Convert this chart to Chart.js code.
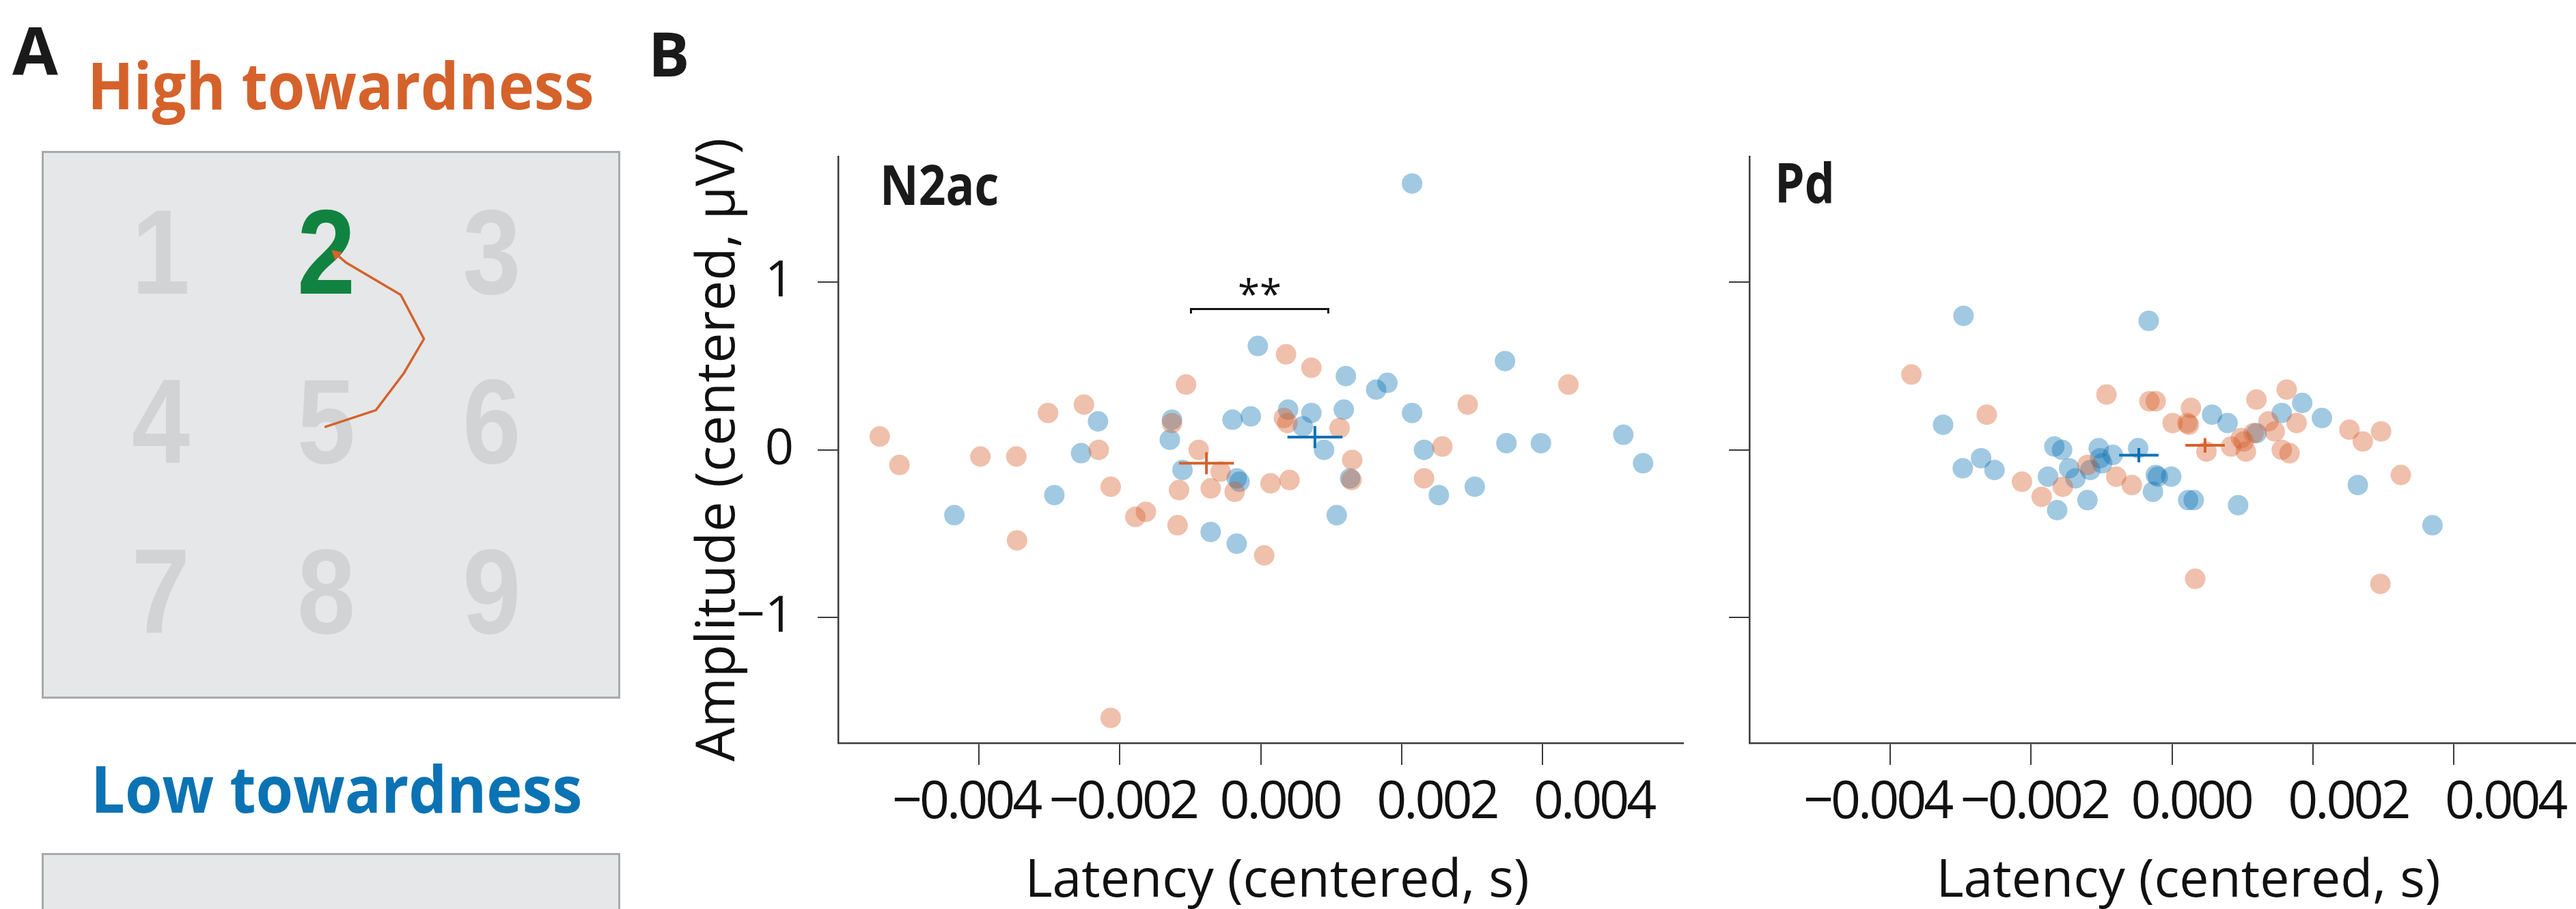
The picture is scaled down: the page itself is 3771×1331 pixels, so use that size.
<!DOCTYPE html>
<html>
<head>
<meta charset="utf-8">
<title>Towardness – N2ac / Pd</title>
<script src="https://cdn.jsdelivr.net/npm/chart.js@4.4.1/dist/chart.umd.min.js"></script>
<style>
  html, body { margin: 0; padding: 0; background: #fff; }
  #page { position: relative; width: 3771px; height: 1331px; overflow: hidden; background: #fff; }
  .lbl { position: absolute; line-height: 1; white-space: nowrap; font-family: "Open Sans", sans-serif; font-weight: 700; color: #1a1a1a; }
  .ttl { font-size: 95px; transform: scaleX(0.93); transform-origin: 0 0; }
  .cond { font-size: 81px; transform: scaleX(0.86); transform-origin: 0 0; }
  .box { position: absolute; left: 61px; width: 847px; box-sizing: border-box; border: 3px solid #A7A9AC; background: #E6E7E8; }
  .box canvas { display: block; }
  canvas.plot { position: absolute; top: 150px; }
</style>
</head>
<body>
<div id="page">
  <div class="lbl" style="left:18px;top:24px;font-size:97px">A</div>
  <div class="lbl ttl" style="left:128px;top:76px;color:#D5622B">High towardness</div>
  <div class="box" style="top:221px;height:802px"><canvas id="gridA" width="841" height="796"></canvas></div>
  <div class="lbl ttl" style="left:133px;top:1106px;color:#0B73B3">Low towardness</div>
  <div class="box" style="top:1249px;height:200px"></div>

  <div class="lbl" style="left:949px;top:32px;font-size:90px">B</div>
  <canvas id="n2ac" class="plot" style="left:990px" width="1490" height="1250"></canvas>
  <canvas id="pd" class="plot" style="left:2490px" width="1330" height="1250"></canvas>
  <div class="lbl cond" style="left:1288px;top:228px">N2ac</div>
  <div class="lbl cond" style="left:2598px;top:225px">Pd</div>
</div>

<script>
//------------------data---------------------
// latency in s, amplitude in µV (both centered per subject)
const latTicks = [-0.004, -0.002, 0, 0.002, 0.004];
const ampTicks = [-1, 0, 1];

// N2ac, high towardness (orange)
const n2acHighLat = [-0.00541, -0.00513, -0.00398, -0.00347, -0.00346, -0.00302, -0.00251, -0.00230, -0.00213, -0.00213,
  -0.00178, -0.00163, -0.00126, -0.00118, -0.00116, -0.00106, -0.00088, -0.00071, -0.00057, -0.00037,
  0.00005, 0.00014, 0.00036, 0.00033, 0.00038, 0.00041, 0.00072, 0.00112, 0.00130, 0.00129,
  0.00232, 0.00258, 0.00294, 0.00437];
const n2acHighAmp = [0.08, -0.09, -0.04, -0.04, -0.54, 0.22, 0.27, 0.00, -0.22, -1.60,
  -0.40, -0.37, 0.16, -0.45, -0.24, 0.39, 0.00, -0.23, -0.13, -0.25,
  -0.63, -0.20, 0.57, 0.19, 0.16, -0.18, 0.49, 0.13, -0.06, -0.18,
  -0.17, 0.02, 0.27, 0.39];
// N2ac, low towardness (blue)
const n2acLowLat = [-0.00435, -0.00293, -0.00255, -0.00231, -0.00129, -0.00126, -0.00111, -0.00071, -0.00040, -0.00034,
  -0.00034, -0.00030, -0.00014, -0.00004, 0.00039, 0.00060, 0.00072, 0.00090, 0.00108, 0.00118,
  0.00121, 0.00127, 0.00164, 0.00180, 0.00215, 0.00215, 0.00232, 0.00253, 0.00304, 0.00347,
  0.00349, 0.00398, 0.00515, 0.00543];
const n2acLowAmp = [-0.39, -0.27, -0.02, 0.17, 0.06, 0.18, -0.12, -0.49, 0.18, -0.56,
  -0.17, -0.19, 0.20, 0.62, 0.24, 0.14, 0.22, 0.00, -0.39, 0.24,
  0.44, -0.17, 0.36, 0.40, 0.22, 1.59, 0.00, -0.27, -0.22, 0.53,
  0.04, 0.04, 0.09, -0.08];

// Pd, high towardness (orange)
const pdHighLat = [-0.00370, -0.00263, -0.00213, -0.00185, -0.00155, -0.00120, -0.00093, -0.00079, -0.00057, -0.00032,
  -0.00023, 0.00001, 0.00022, 0.00024, 0.00027, 0.00033, 0.00049, 0.00084, 0.00098, 0.00102,
  0.00105, 0.00116, 0.00120, 0.00137, 0.00146, 0.00156, 0.00163, 0.00167, 0.00177, 0.00252,
  0.00271, 0.00297, 0.00296, 0.00325];
const pdHighAmp = [0.45, 0.21, -0.19, -0.28, -0.22, -0.09, 0.33, -0.16, -0.21, 0.29,
  0.29, 0.16, 0.16, 0.15, 0.25, -0.77, -0.01, 0.02, 0.07, 0.05,
  -0.01, 0.10, 0.30, 0.17, 0.11, 0.00, 0.36, -0.02, 0.16, 0.12,
  0.05, 0.11, -0.80, -0.15];
// Pd, low towardness (blue)
const pdLowLat = [-0.00325, -0.00296, -0.00297, -0.00271, -0.00252, -0.00176, -0.00167, -0.00156, -0.00146, -0.00163,
  -0.00137, -0.00120, -0.00116, -0.00104, -0.00102, -0.00099, -0.00084, -0.00048, -0.00033, -0.00027,
  -0.00023, -0.00020, -0.00001, 0.00023, 0.00031, 0.00057, 0.00079, 0.00094, 0.00120, 0.00156,
  0.00185, 0.00213, 0.00264, 0.00370];
const pdLowAmp = [0.15, 0.80, -0.11, -0.05, -0.12, -0.16, 0.02, 0.00, -0.11, -0.36,
  -0.17, -0.30, -0.12, 0.01, -0.05, -0.08, -0.03, 0.01, 0.77, -0.25,
  -0.15, -0.16, -0.16, -0.30, -0.30, 0.21, 0.16, -0.33, 0.10, 0.22,
  0.28, 0.19, -0.21, -0.45];

// group means [lat, amp] and error half-widths [lat, amp]
const n2acHighMean = [-0.00077, -0.080];
const n2acHighErr = [0.00039, 0.066];
const n2acLowMean = [0.00077, 0.076];
const n2acLowErr = [0.00039, 0.066];
const pdHighMean = [0.00047, 0.027];
const pdHighErr = [0.00028, 0.043];
const pdLowMean = [-0.00047, -0.032];
const pdLowErr = [0.00028, 0.043];

// significance bracket (N2ac)
const bracketX = [-0.00099, 0.00096];
const bracketY = 0.841;
const bracketFoot = 0.814;
const starY = 0.91;
const starText = '**';

// panel A: 3x3 digit grid, trajectory from 5 to target 2
const gridDigits = ['1', '2', '3', '4', '5', '6', '7', '8', '9'];
const gridCol = [1, 2, 3, 1, 2, 3, 1, 2, 3];
const gridRow = [1, 1, 1, 2, 2, 2, 3, 3, 3];
const targetDigit = '2';
const pathX = [1.99, 2.30, 2.47, 2.59, 2.45, 2.12, 2.06];
const pathY = [1.99, 1.89, 1.67, 1.47, 1.21, 1.02, 0.97];

//------------------style---------------------
const orange = '#D5622B';
const blue = '#0A73B3';
const green = '#118340';
const orangeDot = 'rgba(213, 94, 40, 0.39)';
const blueDot = 'rgba(10, 114, 178, 0.38)';
const axisColor = '#3b3b3d';
const font = '"Open Sans", "Noto Sans", sans-serif';

Chart.defaults.color = '#111';
Chart.defaults.font.family = font;

function toPoints(xs, ys) {
  return xs.map((x, i) => ({ x: x, y: ys[i] }));
}

function fmtLat(v) {
  if (Math.abs(v) < 1e-12) return '0.000';
  return (v < 0 ? '\u2212' : '') + Math.abs(v).toFixed(3);
}

function fmtAmp(v) {
  return (v < 0 ? '\u2212' : '') + Math.abs(v);
}

function crossSets(m, e, color) {
  return [
    { data: [{ x: m[0] - e[0], y: m[1] }, { x: m[0] + e[0], y: m[1] }], showLine: true, borderColor: color, borderWidth: 4, pointRadius: 0 },
    { data: [{ x: m[0], y: m[1] - e[1] }, { x: m[0], y: m[1] + e[1] }], showLine: true, borderColor: color, borderWidth: 4, pointRadius: 0 }
  ];
}

function dotSet(xs, ys, color) {
  return { data: toPoints(xs, ys), backgroundColor: color, borderWidth: 0, pointRadius: 15, pointHoverRadius: 15 };
}

// the printed latency labels sit a bit wider apart than the tick marks,
// so they live on their own label-only axis; tighter letter spacing too
const labelAxis = {
  id: 'labelAxis',
  afterLayout(chart) {
    const s = chart.scales.xLab;
    if (!s || s._patched) return;
    s._patched = true;
    const drawLabels = s.drawLabels.bind(s);
    const drawTitle = s.drawTitle.bind(s);
    s.drawLabels = function (area) {
      const c = this.ctx;
      c.save();
      c.letterSpacing = '-4px';
      drawLabels(area);
      c.restore();
    };
    s.drawTitle = function (area) {
      const c = this.ctx;
      c.save();
      c.translate(24, 0);
      drawTitle(area);
      c.restore();
    };
  }
};

const starPlugin = {
  id: 'stars',
  afterDatasetsDraw(chart) {
    const { ctx, scales: { x, y } } = chart;
    ctx.save();
    ctx.font = '58px ' + font;
    ctx.fillStyle = '#111';
    ctx.textAlign = 'center';
    ctx.textBaseline = 'middle';
    ctx.fillText(starText, x.getPixelForValue((bracketX[0] + bracketX[1]) / 2), y.getPixelForValue(starY));
    ctx.restore();
  }
};

function scatterOptions(showYLabels, padLeft, yWidth, padRight) {
  return {
    responsive: false,
    animation: false,
    devicePixelRatio: 1,
    layout: { padding: { left: padLeft, top: 68, right: padRight, bottom: 63 } },
    plugins: { legend: { display: false }, tooltip: { enabled: false } },
    scales: {
      x: {
        type: 'linear',
        position: 'bottom',
        weight: 0,
        min: -0.006,
        max: 0.006,
        afterBuildTicks: s => { s.ticks = latTicks.map(v => ({ value: v })); },
        afterFit: s => { s.height = 32; },
        border: { color: axisColor, width: 2.5 },
        grid: { drawOnChartArea: false, drawTicks: true, tickLength: 32, color: axisColor, lineWidth: 2 },
        ticks: { callback: () => '', padding: 0, maxRotation: 0, autoSkip: false }
      },
      xLab: {
        type: 'linear',
        position: 'bottom',
        weight: 1,
        min: -0.00563,
        max: 0.00514,
        afterBuildTicks: s => { s.ticks = latTicks.map(v => ({ value: v })); },
        afterFit: s => { s.height = 217; },
        border: { display: false },
        grid: { display: false, drawTicks: false },
        ticks: { callback: v => fmtLat(v), font: { size: 77 }, color: '#111', padding: 10, maxRotation: 0, autoSkip: false },
        title: { display: true, text: 'Latency (centered, s)', font: { size: 77 }, color: '#111', padding: 0 }
      },
      y: {
        type: 'linear',
        min: -1.75,
        max: 1.75,
        afterBuildTicks: s => { s.ticks = ampTicks.map(v => ({ value: v })); },
        afterFit: s => { s.width = yWidth; },
        border: { color: axisColor, width: 2.5 },
        grid: { drawOnChartArea: false, drawTicks: true, tickLength: 30, color: axisColor, lineWidth: 2 },
        ticks: { callback: v => showYLabels ? fmtAmp(v) : '', font: { size: 74 }, color: '#111', padding: 35 },
        title: { display: showYLabels, text: 'Amplitude (centered, \u03bcV)', font: { size: 79 }, color: '#111', padding: 0 }
      }
    }
  };
}

//------------------N2ac---------------------
new Chart(document.getElementById('n2ac'), {
  type: 'scatter',
  data: {
    datasets: [
      ...crossSets(n2acHighMean, n2acHighErr, orange),
      ...crossSets(n2acLowMean, n2acLowErr, blue),
      {
        data: [{ x: bracketX[0], y: bracketFoot }, { x: bracketX[0], y: bracketY }, { x: bracketX[1], y: bracketY }, { x: bracketX[1], y: bracketFoot }],
        showLine: true, borderColor: '#111', borderWidth: 3, pointRadius: 0
      },
      dotSet(n2acHighLat, n2acHighAmp, orangeDot),
      dotSet(n2acLowLat, n2acLowAmp, blueDot)
    ]
  },
  options: scatterOptions(true, 15, 222, 16),
  plugins: [labelAxis, starPlugin]
});

//------------------Pd---------------------
new Chart(document.getElementById('pd'), {
  type: 'scatter',
  data: {
    datasets: [
      ...crossSets(pdLowMean, pdLowErr, blue),
      ...crossSets(pdHighMean, pdHighErr, orange),
      dotSet(pdHighLat, pdHighAmp, orangeDot),
      dotSet(pdLowLat, pdLowAmp, blueDot)
    ]
  },
  options: scatterOptions(false, 0, 71, 22),
  plugins: [labelAxis]
});

//------------------panel A grid---------------------
const digitPlugin = {
  id: 'digits',
  beforeDatasetsDraw(chart) {
    const { ctx, scales: { x, y } } = chart;
    ctx.save();
    ctx.font = 'bold 176px "Liberation Sans", Arial, sans-serif';
    ctx.textAlign = 'center';
    ctx.textBaseline = 'middle';
    gridDigits.forEach((d, i) => {
      ctx.save();
      ctx.translate(x.getPixelForValue(gridCol[i]), y.getPixelForValue(gridRow[i]));
      ctx.scale(0.87, 1);
      ctx.fillStyle = d === targetDigit ? green : '#D1D3D4';
      ctx.fillText(d, 0, 2);
      ctx.restore();
    });
    ctx.restore();
  }
};

function arrowAngle(ctx) {
  const { x, y } = ctx.chart.scales;
  const n = pathX.length;
  const dx = x.getPixelForValue(pathX[n - 1]) - x.getPixelForValue(pathX[n - 2]);
  const dy = y.getPixelForValue(pathY[n - 1]) - y.getPixelForValue(pathY[n - 2]);
  return Math.atan2(dx, -dy) * 180 / Math.PI;
}

new Chart(document.getElementById('gridA'), {
  type: 'scatter',
  data: {
    datasets: [{
      data: toPoints(pathX, pathY),
      showLine: true,
      borderColor: orange,
      borderWidth: 3.5,
      tension: 0,
      pointStyle: 'triangle',
      pointRadius: c => c.dataIndex === pathX.length - 1 ? 9 : 0,
      pointRotation: arrowAngle,
      pointBackgroundColor: orange,
      pointBorderWidth: 0
    }]
  },
  options: {
    responsive: false,
    animation: false,
    devicePixelRatio: 1,
    layout: { padding: 0 },
    plugins: { legend: { display: false }, tooltip: { enabled: false } },
    scales: {
      x: { type: 'linear', display: false, min: 0.3293, max: 3.7273 },
      y: { type: 'linear', display: false, min: 0.4094, max: 3.5433, reverse: true }
    }
  },
  plugins: [digitPlugin]
});
</script>
</body>
</html>
